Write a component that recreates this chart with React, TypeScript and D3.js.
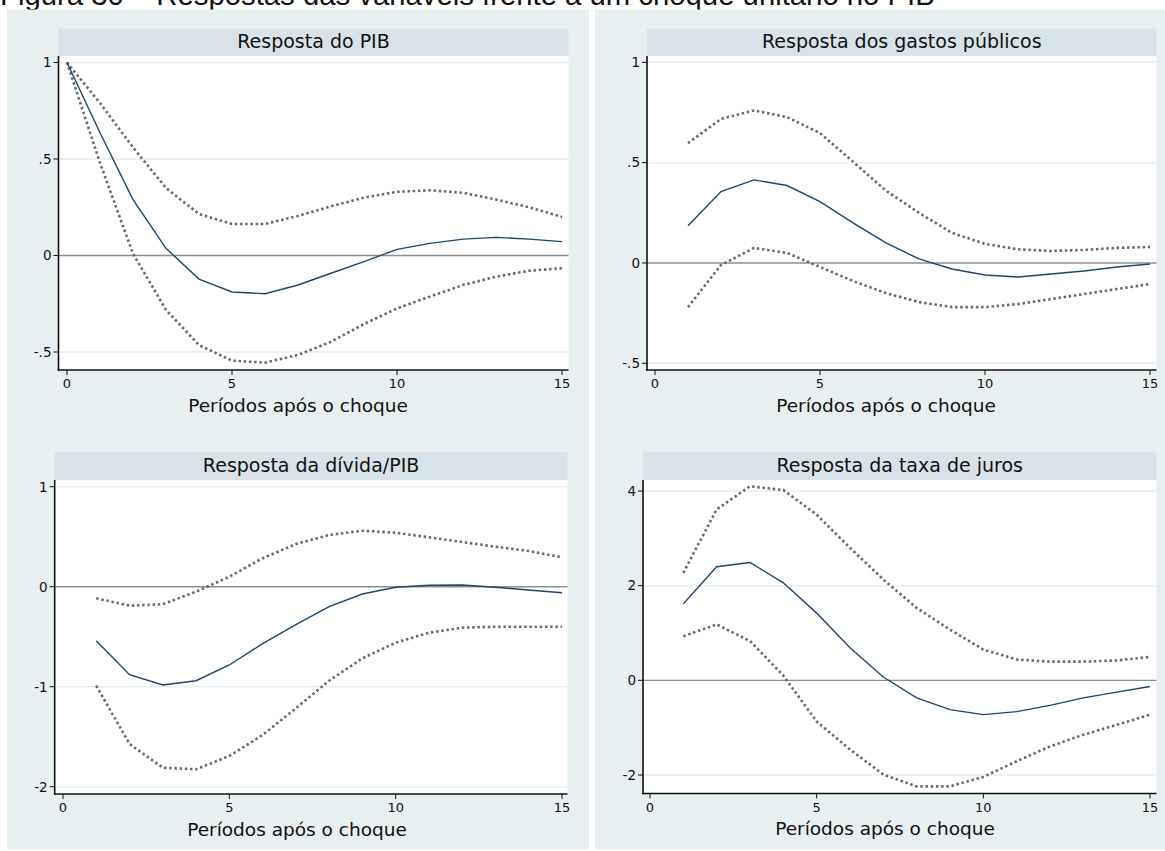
import React from "react";
import * as d3 from "d3";

// ---------- DATA ----------
const periodsPib = [0, 1, 2, 3, 4, 5, 6, 7, 8, 9, 10, 11, 12, 13, 14, 15];
const periods = [1, 2, 3, 4, 5, 6, 7, 8, 9, 10, 11, 12, 13, 14, 15];

const pibIrf = [1.0, 0.636, 0.29, 0.037, -0.122, -0.189, -0.198, -0.153, -0.092, -0.032, 0.032, 0.063, 0.085, 0.094, 0.085, 0.072];
const pibUpper = [1.0, 0.79, 0.56, 0.35, 0.215, 0.163, 0.163, 0.205, 0.255, 0.3, 0.33, 0.338, 0.325, 0.29, 0.25, 0.2];
const pibLower = [1.0, 0.48, 0.01, -0.282, -0.464, -0.545, -0.555, -0.515, -0.447, -0.355, -0.274, -0.213, -0.153, -0.11, -0.079, -0.066];

const gastosIrf = [0.185, 0.356, 0.414, 0.386, 0.306, 0.2, 0.1, 0.02, -0.03, -0.06, -0.07, -0.055, -0.04, -0.02, -0.005];
const gastosUpper = [0.597, 0.718, 0.76, 0.727, 0.647, 0.505, 0.36, 0.25, 0.15, 0.095, 0.068, 0.06, 0.065, 0.075, 0.08];
const gastosLower = [-0.22, -0.01, 0.075, 0.05, -0.02, -0.09, -0.15, -0.195, -0.22, -0.22, -0.205, -0.18, -0.155, -0.13, -0.105];

const dividaIrf = [-0.54, -0.88, -0.983, -0.94, -0.783, -0.57, -0.38, -0.2, -0.073, -0.006, 0.014, 0.017, -0.006, -0.033, -0.06];
const dividaUpper = [-0.116, -0.19, -0.175, -0.05, 0.1, 0.284, 0.427, 0.517, 0.56, 0.54, 0.494, 0.447, 0.4, 0.357, 0.294];
const dividaLower = [-0.99, -1.573, -1.81, -1.826, -1.693, -1.483, -1.216, -0.94, -0.716, -0.56, -0.46, -0.41, -0.4, -0.4, -0.4];

const jurosIrf = [1.615, 2.4, 2.49, 2.06, 1.42, 0.69, 0.07, -0.37, -0.62, -0.725, -0.66, -0.53, -0.37, -0.25, -0.13];
const jurosUpper = [2.27, 3.61, 4.1, 4.02, 3.5, 2.8, 2.13, 1.53, 1.07, 0.65, 0.44, 0.395, 0.395, 0.42, 0.495];
const jurosLower = [0.93, 1.18, 0.83, 0.1, -0.87, -1.46, -1.99, -2.24, -2.24, -2.04, -1.71, -1.395, -1.15, -0.94, -0.725];

const xTicks = [0, 5, 10, 15];
const yTicksSmall = [1, 0.5, 0, -0.5];
const yTicksSmallLabels = ["1", ".5", "0", "-.5"];
const yTicksDivida = [1, 0, -1, -2];
const yTicksDividaLabels = ["1", "0", "-1", "-2"];
const yTicksJuros = [4, 2, 0, -2];
const yTicksJurosLabels = ["4", "2", "0", "-2"];

const figureTitle = "Figura 30 – Respostas das variáveis frente a um choque unitário no PIB";
const xTitle = "Períodos após o choque";

// ---------- STYLE ----------
const BG = "#e8eff1";
const STRIP = "#d8e3e9";
const GRID = "#e4edf0";
const NAVY = "#1a476f";
const BAND = "#676767";
const ZERO = "#8e8e8e";
const FONT = "DejaVu Sans, Verdana, sans-serif";

interface PanelSpec {
  title: string;
  t: number[];
  irf: number[];
  upper: number[];
  lower: number[];
  yTicks: number[];
  yLabels: string[];
  plotLeft: number;
  plotRight: number;
  plotTop: number;
  plotBottom: number;
  stripTop: number;
  xRange: [number, number];
  yDomain: [number, number];
  yRange: [number, number];
  xTitleX: number;
}

const panels: PanelSpec[] = [
  {
    title: "Resposta do PIB",
    t: periodsPib, irf: pibIrf, upper: pibUpper, lower: pibLower,
    yTicks: yTicksSmall, yLabels: yTicksSmallLabels,
    plotLeft: 58.5, plotRight: 568.5, plotTop: 56, plotBottom: 370, stripTop: 28.5,
    xRange: [67, 562], yDomain: [1, -0.5], yRange: [62.5, 352], xTitleX: 298,
  },
  {
    title: "Resposta dos gastos públicos",
    t: periods, irf: gastosIrf, upper: gastosUpper, lower: gastosLower,
    yTicks: yTicksSmall, yLabels: yTicksSmallLabels,
    plotLeft: 647, plotRight: 1156.5, plotTop: 56, plotBottom: 370, stripTop: 28.5,
    xRange: [655, 1150], yDomain: [1, -0.5], yRange: [62.3, 363.3], xTitleX: 886,
  },
  {
    title: "Resposta da dívida/PIB",
    t: periods, irf: dividaIrf, upper: dividaUpper, lower: dividaLower,
    yTicks: yTicksDivida, yLabels: yTicksDividaLabels,
    plotLeft: 54.7, plotRight: 567.5, plotTop: 480, plotBottom: 794, stripTop: 452.3,
    xRange: [63, 562], yDomain: [1, -2], yRange: [486.7, 786.7], xTitleX: 297,
  },
  {
    title: "Resposta da taxa de juros",
    t: periods, irf: jurosIrf, upper: jurosUpper, lower: jurosLower,
    yTicks: yTicksJuros, yLabels: yTicksJurosLabels,
    plotLeft: 643, plotRight: 1156.5, plotTop: 480, plotBottom: 793.5, stripTop: 452.3,
    xRange: [650, 1150], yDomain: [4, -2], yRange: [491, 775], xTitleX: 885,
  },
];

function Panel({ p }: { p: PanelSpec }) {
  const x = d3.scaleLinear().domain([0, 15]).range(p.xRange);
  const y = d3.scaleLinear().domain(p.yDomain).range(p.yRange);
  const line = d3
    .line<number>()
    .x((_, i) => x(p.t[i]))
    .y((d) => y(d));
  const cx = (p.plotLeft + p.plotRight) / 2;
  return (
    <g>
      <rect x={p.plotLeft} y={p.stripTop} width={p.plotRight - p.plotLeft} height={p.plotTop - p.stripTop} fill={STRIP} />
      <text x={cx} y={p.plotTop - 8.5} textAnchor="middle" fontFamily={FONT} fontSize={19} fill="#111">
        {p.title}
      </text>
      <rect x={p.plotLeft} y={p.plotTop} width={p.plotRight - p.plotLeft} height={p.plotBottom - p.plotTop} fill="#fff" />
      {p.yTicks.filter((v) => v !== 0).map((v) => (
        <line key={"g" + v} x1={p.plotLeft} x2={p.plotRight} y1={y(v)} y2={y(v)} stroke={GRID} strokeWidth={1.5} />
      ))}
      <line x1={p.plotLeft} x2={p.plotRight} y1={y(0)} y2={y(0)} stroke={ZERO} strokeWidth={1.4} />
      <path d={line(p.upper) || ""} fill="none" stroke={BAND} strokeWidth={2.6} strokeDasharray="2.4,2.8" />
      <path d={line(p.lower) || ""} fill="none" stroke={BAND} strokeWidth={2.6} strokeDasharray="2.4,2.8" />
      <path d={line(p.irf) || ""} fill="none" stroke={NAVY} strokeWidth={1.4} />
      <line x1={p.plotLeft} x2={p.plotLeft} y1={p.plotTop} y2={p.plotBottom + 0.8} stroke="#111" strokeWidth={1.6} />
      <line x1={p.plotLeft - 0.8} x2={p.plotRight} y1={p.plotBottom} y2={p.plotBottom} stroke="#111" strokeWidth={1.6} />
      {p.yTicks.map((v, i) => (
        <g key={"yt" + v}>
          <line x1={p.plotLeft - 5} x2={p.plotLeft} y1={y(v)} y2={y(v)} stroke="#111" strokeWidth={1} />
          <text x={p.plotLeft - 7} y={y(v) + 4.8} textAnchor="end" fontFamily={FONT} fontSize={13.5} fill="#111">
            {p.yLabels[i]}
          </text>
        </g>
      ))}
      {xTicks.map((v) => (
        <g key={"xt" + v}>
          <line x1={x(v)} x2={x(v)} y1={p.plotBottom} y2={p.plotBottom + 5} stroke="#111" strokeWidth={1} />
          <text x={x(v)} y={p.plotBottom + 18.3} textAnchor="middle" fontFamily={FONT} fontSize={13} fill="#111">
            {v}
          </text>
        </g>
      ))}
      <text x={p.xTitleX} y={p.plotBottom + 41.5} textAnchor="middle" fontFamily={FONT} fontSize={18.5} fill="#111">
        {xTitle}
      </text>
    </g>
  );
}

export default function App() {
  return (
    <svg
      width={1165}
      height={851}
      style={{ position: "absolute", left: 0, top: 0, display: "block", background: "#fff" }}
    >
      <rect x={0} y={0} width={1165} height={851} fill="#fff" />
      <text x={0} y={4.5} fontFamily="Liberation Sans, Arial, sans-serif" fontSize={29.3} fill="#111">
        {figureTitle}
      </text>
      <rect x={7} y={9.5} width={582} height={840} fill={BG} />
      <rect x={595} y={9.5} width={570} height={840} fill={BG} />
      {panels.map((p) => (
        <Panel key={p.title} p={p} />
      ))}
    </svg>
  );
}
